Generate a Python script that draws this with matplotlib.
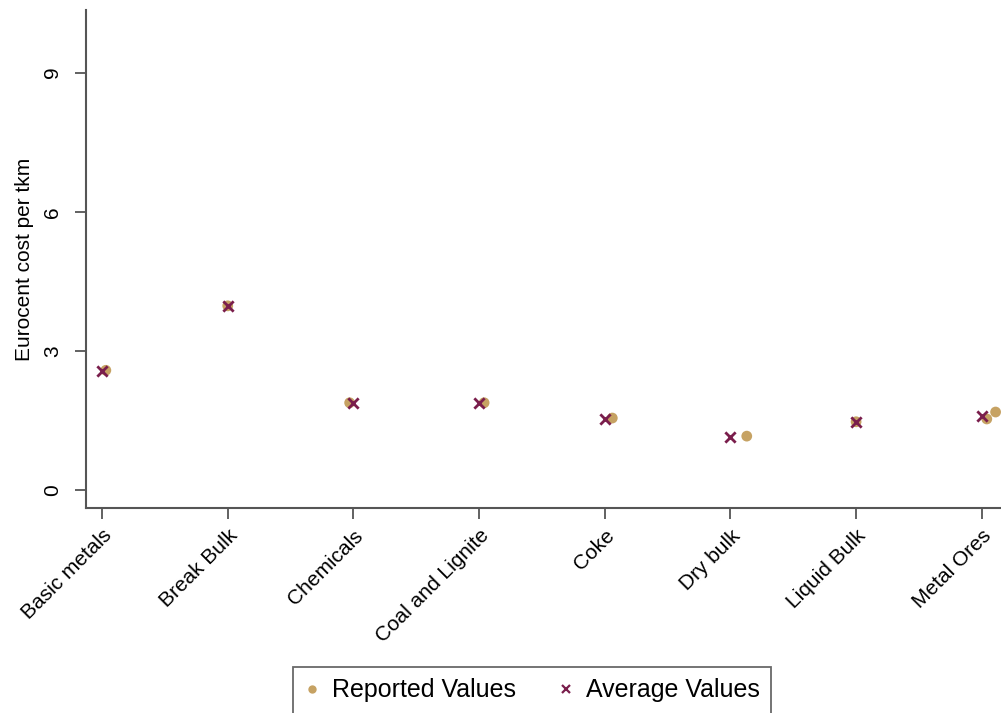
import matplotlib.pyplot as plt
from matplotlib.lines import Line2D

plt.rcParams['font.family'] = ['Liberation Sans', 'DejaVu Sans']

categories = ['Basic metals', 'Break Bulk', 'Chemicals', 'Coal and Lignite',
              'Coke', 'Dry bulk', 'Liquid Bulk', 'Metal Ores']

# reported observations: category index, small horizontal jitter, value
reported_cat = [0, 1, 2, 3, 4, 5, 6, 7, 7]
reported_jitter = [0.03, 0.0, -0.03, 0.04, 0.06, 0.13, 0.0, 0.04, 0.11]
reported_val = [2.58, 3.97, 1.88, 1.88, 1.55, 1.16, 1.47, 1.53, 1.68]

# category averages
average_val = [2.57, 3.97, 1.88, 1.88, 1.52, 1.15, 1.47, 1.60]

yticks = [0, 3, 6, 9]

tan = '#c6a263'
maroon = '#7a1e4c'
axis_col = '#555555'

fig = plt.figure(figsize=(10.01, 7.13), dpi=100)
ax = fig.add_axes([0.0859, 0.2875, 0.92, 0.6985])

rep_x = [c + j for c, j in zip(reported_cat, reported_jitter)]
ax.scatter(rep_x, reported_val, s=60, color=tan, edgecolors='none', zorder=2)
ax.scatter(range(len(categories)), average_val, s=55, marker='x',
           color=maroon, linewidths=2.0, zorder=3)

ax.set_xlim(-0.128, 7.2)
ax.set_ylim(-0.39, 10.35)
ax.set_yticks(yticks)
ax.set_yticklabels([str(v) for v in yticks], rotation=90, va='center')
ax.set_xticks(range(len(categories)))
ax.set_xticklabels(categories, rotation=45, ha='right', rotation_mode='anchor')
ax.set_ylabel('Eurocent cost per tkm', fontsize=15)
# axis title sits about 60 px left of the y axis line
ax.yaxis.set_label_coords(-52 / 921, 0.5)

for side in ['top', 'right']:
    ax.spines[side].set_visible(False)
for side in ['left', 'bottom']:
    ax.spines[side].set_color(axis_col)
    ax.spines[side].set_linewidth(1.5)
ax.tick_params(axis='both', direction='out', length=8, width=1.3,
               color=axis_col, labelsize=15, pad=5)
ax.tick_params(axis='y', pad=9)

handles = [
    Line2D([], [], linestyle='none', marker='o', markersize=6,
           markerfacecolor=tan, markeredgecolor='none'),
    Line2D([], [], linestyle='none', marker='x', markersize=6,
           color=maroon, markeredgewidth=1.6),
]
leg = fig.legend(handles, ['Reported Values', 'Average Values'],
                 loc='upper left', bbox_to_anchor=(293 / 1001, 1 - 667 / 713),
                 ncol=2, fontsize=18, frameon=True, fancybox=False,
                 borderpad=0.45, handletextpad=0.5, columnspacing=1.7,
                 handlelength=0.6, borderaxespad=0)
leg.get_frame().set_edgecolor('#444444')
leg.get_frame().set_linewidth(1.3)

fig.savefig('out.png', dpi=100)
